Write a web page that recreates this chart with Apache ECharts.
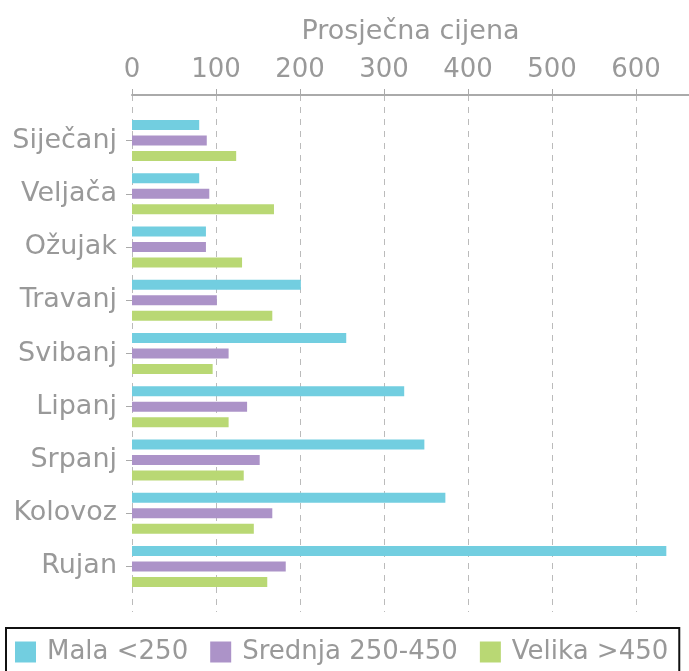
<!DOCTYPE html>
<html>
<head>
<meta charset="utf-8">
<script src="https://cdn.jsdelivr.net/npm/echarts@6/dist/echarts.min.js"></script>
<style>
  html, body { margin: 0; padding: 0; background: #fff; }
  #chart { width: 689px; height: 671px; }
</style>
</head>
<body>
<div id="chart"></div>
<script>
// mjeseci i prosjecne cijene po velicini
var months = ['Siječanj', 'Veljača', 'Ožujak', 'Travanj', 'Svibanj', 'Lipanj', 'Srpanj', 'Kolovoz', 'Rujan'];
var mala = [80, 80, 88, 201, 255, 324, 348, 373, 636];
var srednja = [89, 92, 88, 101, 115, 137, 152, 167, 183];
var velika = [124, 169, 131, 167, 96, 115, 133, 145, 161];
var seriesNames = ['Mala <250', 'Srednja 250-450', 'Velika >450'];
var colors = ['#72cee0', '#ac93c8', '#b9d874'];

var font = 'DejaVu Sans';
var grey = '#999999';
var xMax = 663;

var chart = echarts.init(document.getElementById('chart'));

function bar(name, data, i) {
    return {
        name: name,
        type: 'bar',
        xAxisIndex: 1,
        yAxisIndex: 1,
        data: data,
        barWidth: 10,
        barGap: '55%',
        itemStyle: { color: colors[i] },
        silent: true
    };
}

var option = {
    animation: false,
    textStyle: { fontFamily: font },
    legend: {
        data: seriesNames,
        left: 6,
        top: 628,
        width: 683,
        orient: 'horizontal',
        icon: 'rect',
        itemWidth: 21,
        itemHeight: 21,
        itemGap: 22,
        padding: [11, 11, 14, 9],
        borderColor: '#111',
        borderWidth: 2,
        textStyle: { fontSize: 26, color: grey, fontFamily: font, padding: [0, 0, 0, 6] }
    },
    grid: [
        // outer grid: x axis + dashed split lines
        { left: 132, right: 0, top: 95, bottom: 59 },
        // inner grid: categories and bars
        { left: 132, right: 0, top: 114, bottom: 78 }
    ],
    xAxis: [
        {
            gridIndex: 0,
            type: 'value',
            position: 'top',
            min: 0,
            max: xMax,
            interval: 100,
            name: 'Prosječna cijena',
            nameLocation: 'middle',
            nameGap: 50,
            nameTextStyle: { fontSize: 27, color: grey, fontFamily: font },
            axisLine: { show: true, onZero: false, lineStyle: { color: '#aaaaaa', width: 2 } },
            axisTick: { show: true, length: 6, lineStyle: { color: '#aaaaaa' } },
            axisLabel: { fontSize: 26, color: grey, margin: 12, showMaxLabel: false, fontFamily: font },
            splitLine: { show: true, showMaxLine: false, lineStyle: { color: '#bbbbbb', type: [6, 6], width: 1 } }
        },
        {
            gridIndex: 1,
            type: 'value',
            min: 0,
            max: xMax,
            show: false
        }
    ],
    yAxis: [
        { gridIndex: 0, type: 'value', show: false },
        {
            gridIndex: 1,
            type: 'category',
            inverse: true,
            data: months,
            axisLine: { show: false },
            axisTick: { show: true, alignWithLabel: true, length: 6, lineStyle: { color: '#aaaaaa' } },
            axisLabel: { fontSize: 27, color: grey, margin: 15, fontFamily: font },
            splitLine: { show: false }
        }
    ],
    series: [
        bar(seriesNames[0], mala, 0),
        bar(seriesNames[1], srednja, 1),
        bar(seriesNames[2], velika, 2)
    ]
};

chart.setOption(option);
</script>
</body>
</html>
